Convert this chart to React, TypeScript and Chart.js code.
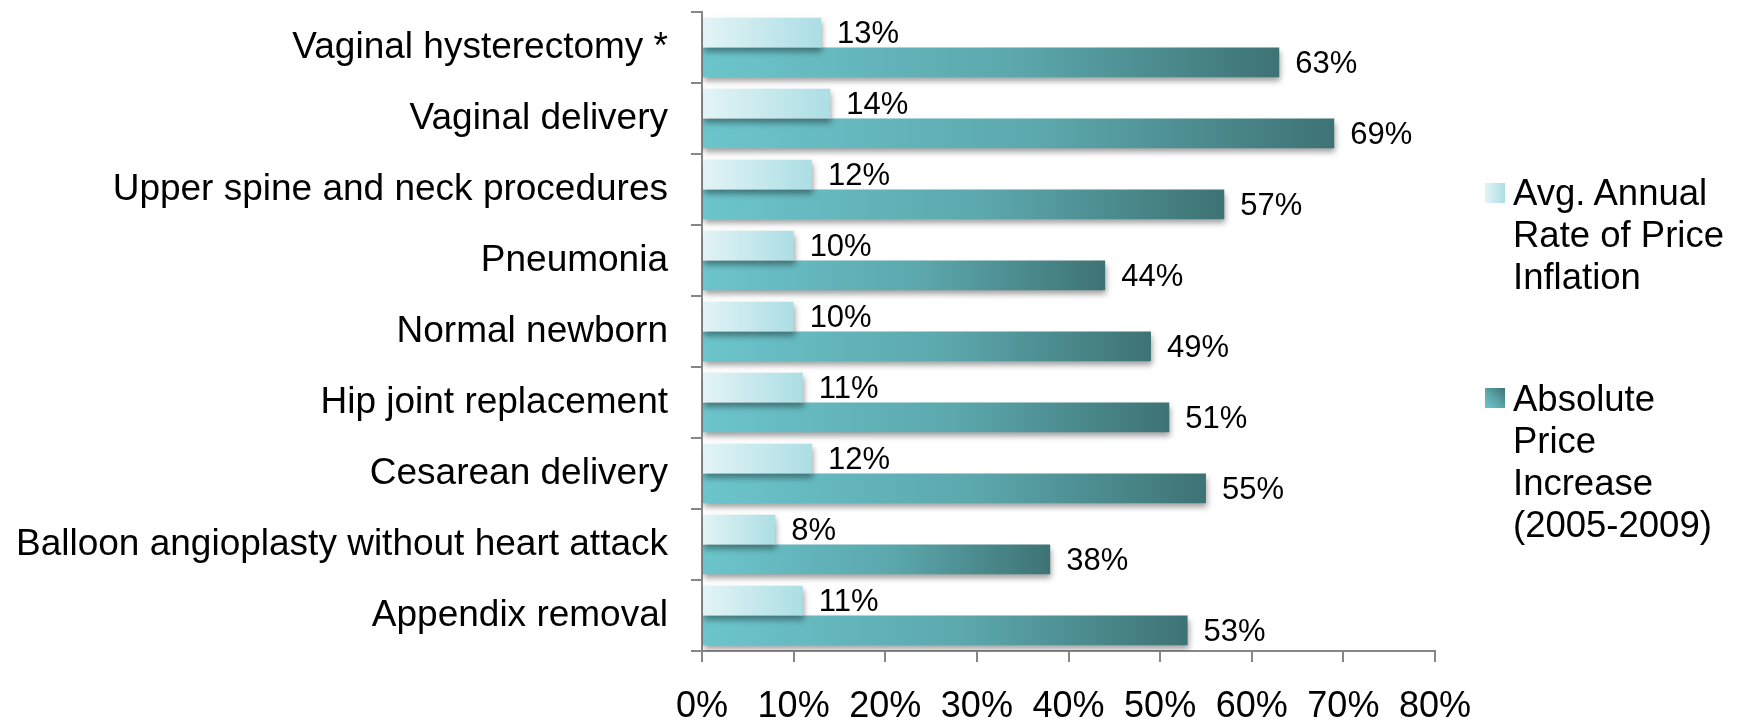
import React, { useEffect, useRef } from "react";
import { Chart, registerables } from "chart.js";

Chart.register(...registerables);

const categories = [
  "Vaginal hysterectomy *",
  "Vaginal delivery",
  "Upper spine and neck procedures",
  "Pneumonia",
  "Normal newborn",
  "Hip joint replacement",
  "Cesarean delivery",
  "Balloon angioplasty without heart attack",
  "Appendix removal",
];
const annualRate = [13, 14, 12, 10, 10, 11, 12, 8, 11];
const absoluteIncrease = [63, 69, 57, 44, 49, 51, 55, 38, 53];
const seriesNameLines = [
  ["Avg. Annual", "Rate of Price", "Inflation"],
  ["Absolute", "Price", "Increase", "(2005-2009)"],
];
const xMin = 0;
const xMax = 80;
const xStep = 10;

const FONT = '"Liberation Sans", Arial, Helvetica, sans-serif';
const LIGHT_STOPS: [number, string][] = [
  [0, "#e4f4f6"],
  [1, "#abdee4"],
];
const DARK_STOPS: [number, string][] = [
  [0, "#6cc5cc"],
  [0.55, "#5ba7ac"],
  [1, "#3e7374"],
];

function barGradient(ctx: any, stops: [number, string][], fallback: string) {
  const chart = ctx.chart;
  if (!chart.chartArea || ctx.type !== "data" || !chart.scales.x) return fallback;
  const xs = chart.scales.x;
  const x0 = xs.getPixelForValue(0);
  const x1 = xs.getPixelForValue(ctx.raw as number);
  if (!isFinite(x0) || !isFinite(x1) || x1 - x0 < 1) return fallback;
  const g = chart.ctx.createLinearGradient(x0, 0, x1, 0);
  stops.forEach(([o, c]) => g.addColorStop(o, c));
  return g;
}

const barShadow = {
  id: "barShadow",
  beforeDatasetDraw(chart: any) {
    const c = chart.ctx;
    c.save();
    c.shadowColor = "rgba(0,0,0,0.38)";
    c.shadowBlur = 6;
    c.shadowOffsetX = 1;
    c.shadowOffsetY = 4;
  },
  afterDatasetDraw(chart: any) {
    chart.ctx.restore();
  },
};

const valueLabels = {
  id: "valueLabels",
  afterDatasetsDraw(chart: any) {
    const c = chart.ctx;
    c.save();
    c.font = `31px ${FONT}`;
    c.fillStyle = "#000";
    c.textBaseline = "middle";
    c.textAlign = "left";
    chart.data.datasets.forEach((ds: any, i: number) => {
      const meta = chart.getDatasetMeta(i);
      meta.data.forEach((el: any, j: number) => {
        c.fillText(`${ds.data[j]}%`, el.x + 16, el.y + 2);
      });
    });
    c.restore();
  },
};

export default function App() {
  const canvasRef = useRef<HTMLCanvasElement | null>(null);

  useEffect(() => {
    if (!canvasRef.current) return;
    const chart = new Chart(canvasRef.current, {
      type: "bar",
      data: {
        labels: categories,
        datasets: [
          {
            label: seriesNameLines[0].join(" "),
            data: annualRate,
            backgroundColor: (ctx: any) => barGradient(ctx, LIGHT_STOPS, "#c8eaee"),
            borderWidth: 0,
            categoryPercentage: 0.835,
            barPercentage: 1,
          },
          {
            label: seriesNameLines[1].join(" "),
            data: absoluteIncrease,
            backgroundColor: (ctx: any) => barGradient(ctx, DARK_STOPS, "#5aa8ad"),
            borderWidth: 0,
            categoryPercentage: 0.835,
            barPercentage: 1,
          },
        ],
      },
      options: {
        indexAxis: "y",
        responsive: false,
        animation: false,
        devicePixelRatio: 1,
        layout: { padding: { top: 12, right: 303, bottom: 0, left: 0 } },
        plugins: {
          legend: { display: false },
          tooltip: { enabled: false },
        },
        scales: {
          x: {
            type: "linear",
            min: xMin,
            max: xMax,
            ticks: {
              stepSize: xStep,
              callback: (v: any) => `${v}%`,
              font: { family: FONT, size: 36 },
              color: "#000",
              padding: 23,
              maxRotation: 0,
            },
            grid: {
              drawOnChartArea: false,
              drawTicks: true,
              tickLength: 11,
              color: "#868686",
              lineWidth: 2,
            },
            border: { color: "#868686", width: 2 },
            afterFit: (s: any) => {
              s.height = 70;
              s.paddingLeft = 0;
            },
          },
          y: {
            type: "category",
            ticks: {
              font: { family: FONT, size: 37 },
              color: "#000",
              padding: 23,
              autoSkip: false,
            },
            grid: {
              drawOnChartArea: false,
              drawTicks: true,
              tickLength: 11,
              offset: true,
              color: "#868686",
              lineWidth: 2,
            },
            border: { color: "#868686", width: 2 },
            afterFit: (s: any) => {
              s.width = 702;
              s.paddingTop = 0;
              s.paddingBottom = 0;
            },
          },
        },
      },
      plugins: [barShadow, valueLabels],
    });
    return () => chart.destroy();
  }, []);

  const textStyle: React.CSSProperties = {
    position: "absolute",
    left: 1513,
    fontFamily: FONT,
    fontSize: 36.5,
    lineHeight: "42px",
    color: "#000",
    whiteSpace: "nowrap",
  };
  const swatch: React.CSSProperties = {
    position: "absolute",
    left: 1485,
    width: 20,
    height: 20,
  };

  return (
    <div
      style={{
        position: "fixed",
        left: 0,
        top: 0,
        width: 1738,
        height: 721,
        background: "#fff",
        overflow: "hidden",
      }}
    >
      <canvas
        ref={canvasRef}
        width={1738}
        height={721}
        style={{ display: "block", width: 1738, height: 721 }}
      />
      <div
        style={{
          ...swatch,
          top: 183,
          background: "linear-gradient(to right, #e4f4f6, #abdee4)",
        }}
      />
      <div style={{ ...textStyle, top: 172 }}>
        {seriesNameLines[0].map((l, i) => (
          <div key={i}>{l}</div>
        ))}
      </div>
      <div
        style={{
          ...swatch,
          top: 388,
          background: "linear-gradient(to bottom left, #3e7374, #5ba7ac 55%, #6cc5cc)",
        }}
      />
      <div style={{ ...textStyle, top: 378 }}>
        {seriesNameLines[1].map((l, i) => (
          <div key={i}>{l}</div>
        ))}
      </div>
    </div>
  );
}
